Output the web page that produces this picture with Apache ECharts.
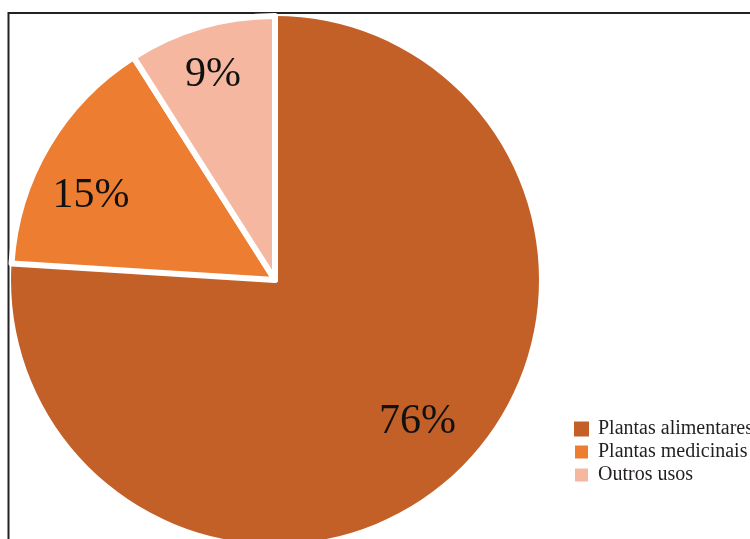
<!DOCTYPE html>
<html>
<head>
<meta charset="utf-8">
<script src="https://cdn.jsdelivr.net/npm/echarts@6/dist/echarts.min.js"></script>
<style>html,body{margin:0;padding:0;background:#fff}#c{width:750px;height:539px}</style>
</head>
<body>
<div id="c"></div>
<script>
const categories = ['Plantas alimentares', 'Plantas medicinais', 'Outros usos'];
const values = [76, 15, 9];
const colors = ['#C26027', '#ED7D31', '#F5B7A0'];

const chart = echarts.init(document.getElementById('c'), null, {renderer: 'canvas'});
const mainData = categories.map((n, i) => ({
  name: n, value: values[i],
  itemStyle: {color: colors[i], borderColor: '#fff', borderWidth: i === 0 ? 0 : 6}
}));
const labelOffsets = [[0, -10], [-5, 22], [-4, -5]];
const labelData = categories.map((n, i) => ({name: n, value: values[i], label: {offset: labelOffsets[i]}}));
const center = [275, 280];
chart.setOption({
  animation: false,
  legend: {
    orient: 'vertical', left: 573, top: 418, padding: 0,
    itemWidth: 15, itemHeight: 15, itemGap: 1,
    icon: 'rect',
    textStyle: {fontFamily: 'Liberation Serif', fontSize: 20, color: '#231F20', lineHeight: 22, padding: [0, 0, 0, 4]},
    data: categories
  },
  graphic: [{
    type: 'polyline', silent: true,
    shape: {points: [[8.5, 560], [8.5, 13], [760, 13]]},
    style: {stroke: '#222', lineWidth: 2, fill: null}
  }],
  series: [{
    type: 'pie', center: center, radius: 264, startAngle: 90, clockwise: true,
    label: {show: false}, labelLine: {show: false}, silent: true,
    data: mainData
  }, {
    type: 'pie', center: center, radius: [146, 264], startAngle: 90, clockwise: true,
    silent: true, itemStyle: {color: 'rgba(0,0,0,0)'},
    label: {show: true, position: 'inside', formatter: '{d}%', fontFamily: 'Liberation Serif', fontSize: 42, color: '#111'},
    labelLine: {show: false},
    data: labelData
  }]
});
</script>
</body>
</html>
